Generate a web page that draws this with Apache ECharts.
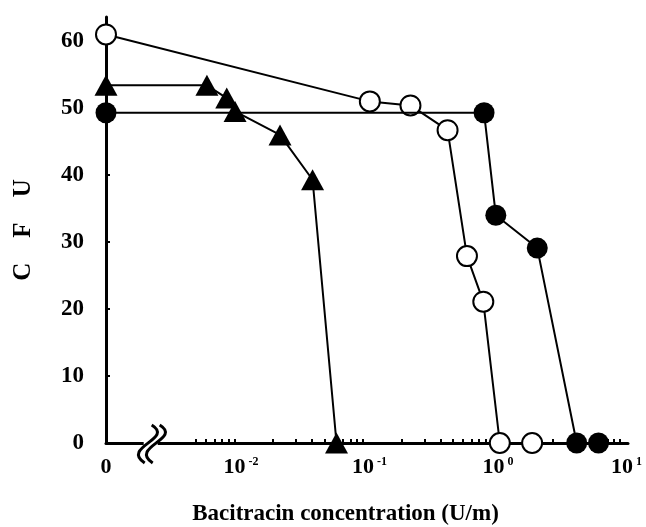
<!DOCTYPE html>
<html>
<head>
<meta charset="utf-8">
<script src="https://cdn.jsdelivr.net/npm/echarts@6/dist/echarts.min.js"></script>
<style>html,body{margin:0;padding:0;background:#fff}#c{width:646px;height:527px}</style>
</head>
<body>
<div id="c"></div>
<script>
// ---- data (concentration in U/ml, 0 = no bacitracin; CFU) ----
const openConc   = [0, 0.113, 0.234, 0.455, 0.644, 0.863, 1.16, 2.07];
const openCfu    = [61, 51, 50.4, 46.7, 27.9, 21.1, 0, 0];
const filledConc = [0, 0.875, 1.08, 2.27, 4.6, 6.8];
const filledCfu  = [49.3, 49.3, 34.0, 29.1, 0, 0];
const triConc    = [0, 0.0061, 0.0087, 0.0101, 0.0226, 0.0405, 0.0622];
const triCfu     = [53.4, 53.4, 51.5, 49.5, 46.0, 39.3, 0];
const xTickExps  = [-3, -2, -1, 0, 1];       // -3 slot shows "0"
const yTicks     = [0, 10, 20, 30, 40, 50, 60];
const xTitle = 'Bacitracin concentration (U/m)';
const yTitle = 'C    F    U';

const ZERO_POS = -3;     // where concentration 0 is drawn on the log scale
const BREAK_POS = -2.66; // axis break symbol
const toX = c => c === 0 ? ZERO_POS : Math.log10(c);
const pairs = (cs, vs) => cs.map((c, i) => [toX(c), vs[i]]);

// minor log ticks (axis decoration)
const minorTicks = [];
for (let d = -3; d <= 0; d++) {
  for (let k = 1; k <= 9; k++) {
    const v = d + Math.log10(k);
    if (d === -3 && k < 5) continue;
    minorTicks.push(v);
  }
}
minorTicks.push(1);

const FONT = '"Liberation Serif", "Times New Roman", serif';
const chart = echarts.init(document.getElementById('c'), null, {renderer: 'canvas'});

const lineStyle = {color: '#000', width: 2};
const option = {
  animation: false,
  backgroundColor: '#fff',
  grid: {left: 106, right: 18, top: 17, bottom: 84, outerBoundsMode: 'none', containLabel: false},
  xAxis: {
    type: 'value', min: -3, max: 1.062,
    name: xTitle, nameLocation: 'middle', nameGap: 60,
    nameTextStyle: {fontFamily: FONT, fontWeight: 'bold', fontSize: 23, color: '#000', padding: [0, 43, 0, 0]},
    axisLine: {show: true, onZero: false, lineStyle: {color: '#000', width: 3}},
    axisTick: {show: true, inside: true, length: 4, customValues: minorTicks, lineStyle: {color: '#000', width: 2}},
    splitLine: {show: false},
    axisLabel: {
      customValues: xTickExps, margin: 13,
      fontFamily: FONT, fontWeight: 'bold', fontSize: 22, color: '#000',
      formatter: v => v === ZERO_POS ? '0' : '{pad|}10{sup|' + (v < 0 ? '-' + (-v) : v) + '}',
      rich: {
        pad: {width: 13},
        sup: {fontFamily: FONT, fontWeight: 'bold', fontSize: 12, color: '#000', verticalAlign: 'top', padding: [0, 0, 10, 3]}
      }
    }
  },
  yAxis: {
    type: 'value', min: 0, max: 63.6,
    name: yTitle, nameLocation: 'middle', nameRotate: 90, nameGap: 70,
    nameTextStyle: {fontFamily: FONT, fontWeight: 'bold', fontSize: 25, color: '#000'},
    axisLine: {show: true, onZero: false, lineStyle: {color: '#000', width: 3}},
    axisTick: {show: true, inside: true, length: 4, customValues: yTicks, lineStyle: {color: '#000', width: 2}},
    splitLine: {show: false},
    axisLabel: {customValues: yTicks, margin: 22, fontFamily: FONT, fontWeight: 'bold', fontSize: 23, color: '#000'}
  },
  series: [
    {type: 'line', data: pairs(triConc, triCfu), symbol: 'triangle', symbolSize: [23, 21],
     itemStyle: {color: '#000'}, lineStyle, z: 3},
    {type: 'line', data: pairs(openConc, openCfu), symbol: 'circle', symbolSize: 20,
     itemStyle: {color: '#fff', borderColor: '#000', borderWidth: 2}, lineStyle, z: 4},
    {type: 'line', data: pairs(filledConc, filledCfu), symbol: 'circle', symbolSize: 21,
     itemStyle: {color: '#000'}, lineStyle, z: 5}
  ]
};
chart.setOption(option);

// axis break symbol
const p = chart.convertToPixel({gridIndex: 0}, [BREAK_POS, 0]);
const curve = dx => ({
  type: 'bezierCurve', z: 10,
  shape: {x1: p[0] + 5 + dx, y1: p[1] - 18, cpx1: p[0] + 28 + dx, cpy1: p[1] - 4,
          cpx2: p[0] - 26 + dx, cpy2: p[1] + 4, x2: p[0] - 2 + dx, y2: p[1] + 20},
  style: {stroke: '#000', lineWidth: 3, fill: null}
});
chart.setOption({graphic: [
  {type: 'rect', z: 9, shape: {x: p[0] - 6, y: p[1] - 3, width: 14, height: 6}, style: {fill: '#fff'}},
  curve(-3), curve(5)
]});
</script>
</body>
</html>
